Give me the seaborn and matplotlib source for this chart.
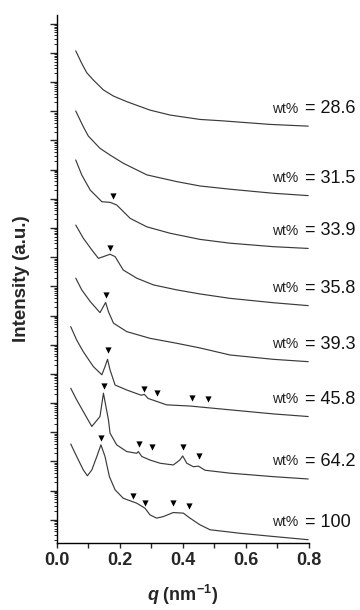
import numpy as np
import pandas as pd
import seaborn as sns
import matplotlib.pyplot as plt
from matplotlib.ticker import LogLocator, NullFormatter, MultipleLocator

# SAXS profiles, stacked on a log axis (values = log10 of stacked intensity)
wt_labels = ["28.6", "31.5", "33.9", "35.8", "39.3", "45.8", "64.2", "100"]

q_286 = [0.060, 0.079, 0.095, 0.116, 0.148, 0.180, 0.222, 0.296, 0.360, 0.455, 0.529, 0.677, 0.799]
d_286 = [17.07, 16.64, 16.32, 16.07, 15.73, 15.52, 15.33, 15.04, 14.87, 14.72, 14.67, 14.55, 14.49]

q_315 = [0.060, 0.084, 0.100, 0.137, 0.169, 0.211, 0.286, 0.381, 0.455, 0.550, 0.688, 0.799]
d_315 = [15.01, 14.47, 14.15, 13.73, 13.50, 13.22, 12.82, 12.59, 12.44, 12.33, 12.19, 12.11]

q_339 = [0.060, 0.079, 0.106, 0.143, 0.169, 0.190, 0.206, 0.233, 0.286, 0.360, 0.455, 0.550, 0.688, 0.799]
d_339 = [13.33, 12.82, 12.30, 11.90, 11.88, 11.79, 11.62, 11.33, 11.04, 10.82, 10.61, 10.48, 10.36, 10.30]

q_358 = [0.060, 0.084, 0.111, 0.132, 0.148, 0.169, 0.185, 0.211, 0.254, 0.307, 0.381, 0.455, 0.550, 0.688, 0.799]
d_358 = [11.10, 10.65, 10.25, 9.96, 10.02, 10.10, 10.02, 9.56, 9.28, 9.05, 8.88, 8.74, 8.59, 8.44, 8.34]

q_393 = [0.060, 0.079, 0.106, 0.137, 0.155, 0.164, 0.180, 0.222, 0.296, 0.381, 0.455, 0.550, 0.688, 0.799]
d_393 = [9.28, 8.88, 8.48, 8.10, 8.45, 8.13, 7.74, 7.45, 7.22, 7.05, 6.89, 6.65, 6.50, 6.42]

q_458 = [0.044, 0.063, 0.084, 0.116, 0.143, 0.153, 0.161, 0.169, 0.185, 0.222, 0.268,
         0.278, 0.290, 0.349, 0.423, 0.550, 0.688, 0.799]
d_458 = [7.62, 7.16, 6.76, 6.25, 5.97, 6.25, 6.50, 6.14, 5.62, 5.45, 5.27,
         5.30, 5.16, 4.94, 4.90, 4.77, 4.63, 4.54]

q_642 = [0.044, 0.063, 0.084, 0.111, 0.137, 0.148, 0.164, 0.169, 0.190, 0.222, 0.254, 0.259,
         0.270, 0.296, 0.328, 0.370, 0.391, 0.400, 0.413, 0.434, 0.450, 0.471, 0.550, 0.688, 0.799]
d_642 = [5.51, 5.11, 4.71, 4.20, 4.54, 5.34, 4.42, 3.97, 3.57, 3.34, 3.28, 3.34,
         3.17, 3.05, 2.94, 2.88, 3.05, 3.19, 2.94, 2.82, 2.84, 2.70, 2.60, 2.48, 2.40]

q_100 = [0.044, 0.063, 0.084, 0.097, 0.111, 0.127, 0.140, 0.153, 0.167, 0.185, 0.211, 0.254,
         0.280, 0.296, 0.317, 0.338, 0.370, 0.402, 0.423, 0.455, 0.487, 0.582, 0.688, 0.799]
d_100 = [3.60, 3.17, 2.71, 2.51, 2.71, 3.17, 3.57, 3.17, 2.48, 2.03, 1.74, 1.57,
         1.40, 1.17, 1.06, 1.11, 1.25, 1.23, 1.06, 0.83, 0.66, 0.54, 0.43, 0.32]

# peak markers (triangles)
tri_q = [0.180, 0.169, 0.157, 0.161, 0.278, 0.319, 0.429, 0.481,
         0.150, 0.262, 0.303, 0.402, 0.453, 0.140, 0.243, 0.280, 0.370, 0.419]
tri_d = [12.09, 10.30, 8.71, 6.82, 5.49, 5.34, 5.17, 5.13,
         5.58, 3.60, 3.48, 3.48, 3.19, 3.80, 1.82, 1.59, 1.59, 1.46]

qs = [q_286, q_315, q_339, q_358, q_393, q_458, q_642, q_100]
ds = [d_286, d_315, d_339, d_358, d_393, d_458, d_642, d_100]

rows = []
for lab, q, d in zip(wt_labels, qs, ds):
    for qi, di in zip(q, d):
        rows.append({"wt": lab, "q": qi, "I": 10 ** di})
df = pd.DataFrame(rows)
tri = pd.DataFrame({"q": tri_q, "I": [10 ** v for v in tri_d]})

sns.set_style("ticks")
plt.rcParams['font.family'] = ['Liberation Sans', 'DejaVu Sans']
plt.rcParams['mathtext.fontset'] = 'custom'
plt.rcParams['mathtext.rm'] = 'Liberation Sans:bold'
plt.rcParams['mathtext.it'] = 'Liberation Sans:bold:italic'
plt.rcParams['mathtext.bf'] = 'Liberation Sans:bold'

fig = plt.figure(figsize=(3.6, 6.1), dpi=100)
ax = fig.add_axes([0.158, 0.110, 0.699, 0.865])

line_col = "#3a3a3a"
sns.lineplot(data=df, x="q", y="I", hue="wt", palette=[line_col] * len(wt_labels),
             estimator=None, sort=False, legend=False, linewidth=0.85, ax=ax)
sns.scatterplot(data=tri, x="q", y="I", marker="v", color="black", s=20,
                linewidth=0, ax=ax, zorder=3)

ax.set_yscale("log")
ax.set_xlim(0, 0.8)
ax.set_ylim(10 ** 0.21, 10 ** 18.29)
ax.yaxis.set_major_locator(LogLocator(base=10, numticks=40))
ax.yaxis.set_minor_locator(LogLocator(base=10, subs=np.arange(2, 10), numticks=40))
ax.yaxis.set_major_formatter(NullFormatter())
ax.yaxis.set_minor_formatter(NullFormatter())
ax.xaxis.set_minor_locator(MultipleLocator(0.1))
ax.set_xticks([0.0, 0.2, 0.4, 0.6, 0.8])
ax.set_xticklabels(["0.0", "0.2", "0.4", "0.6", "0.8"], fontsize=13, fontweight="bold")

sns.despine(ax=ax)
for sp in ["left", "bottom"]:
    ax.spines[sp].set_linewidth(1.0)
    ax.spines[sp].set_color("black")
ax.tick_params(axis="y", which="major", length=5, width=1.0, direction="out")
ax.tick_params(axis="y", which="minor", length=2.5, width=0.7, direction="out")
ax.tick_params(axis="x", which="both", length=3.6, width=1.0, direction="out", pad=3)

ax.set_xlabel(r"$q$ (nm$^{-1}$)", fontsize=13, fontweight="bold", labelpad=10)
ax.set_ylabel("Intensity (a.u.)", fontsize=13.5, fontweight="bold")
ax.yaxis.set_label_coords(-0.105, 0.5)

# labels sit a little above the right end of each curve
for lab, d in zip(wt_labels, ds):
    y = 10 ** (d[-1] + 0.6)
    ax.text(0.766, y, "wt%", ha="right", va="center", fontsize=10, color="#222222", clip_on=False)
    ax.text(0.788, y, "= " + lab, ha="left", va="center", fontsize=13, color="#111111", clip_on=False)

fig.savefig("out.png", dpi=100)
